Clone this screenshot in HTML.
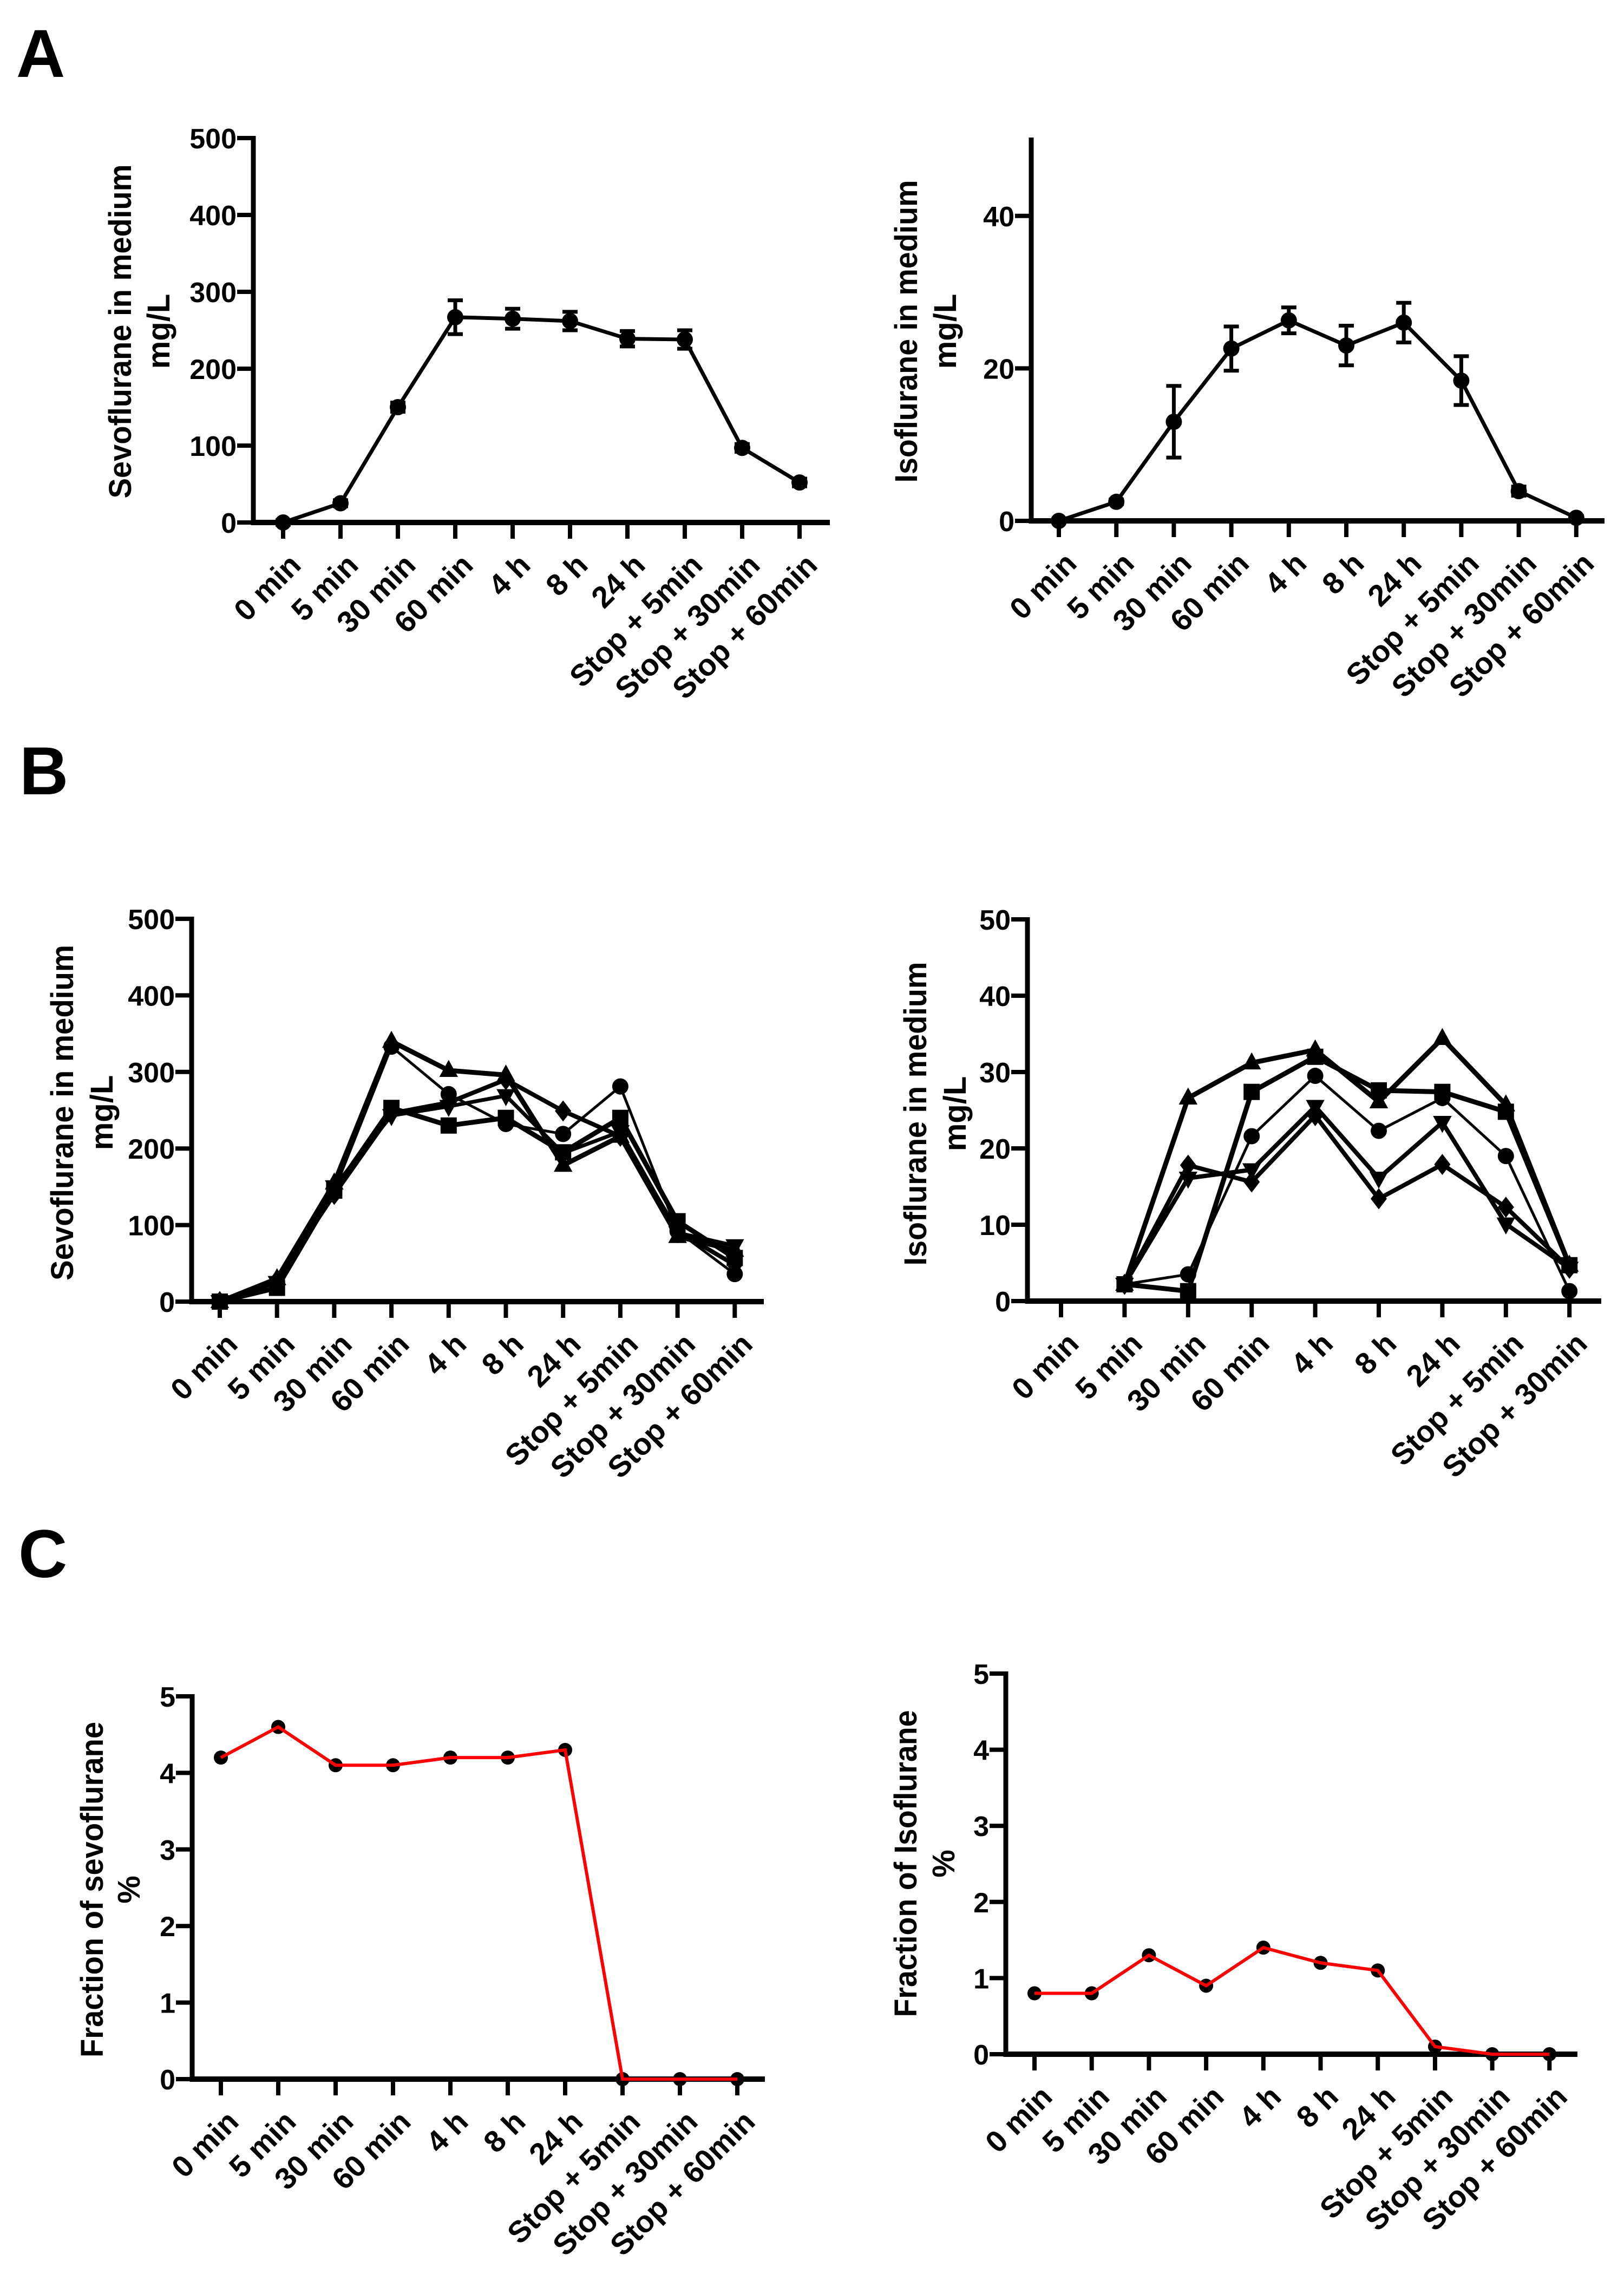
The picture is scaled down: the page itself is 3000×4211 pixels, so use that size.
<!DOCTYPE html>
<html><head><meta charset="utf-8"><style>
html,body{margin:0;padding:0;background:#fff;}
svg{display:block;}
text{font-family:"Liberation Sans",Arial,sans-serif;font-weight:bold;fill:#000;}
</style></head>
<body>
<svg id="fig" xmlns="http://www.w3.org/2000/svg" width="3000" height="4211" viewBox="0 0 3000 4211">
<rect width="3000" height="4211" fill="#fff"/>
<text x="30" y="142" font-size="125">A</text>
<text x="36" y="1467" font-size="125">B</text>
<text x="34" y="2913" font-size="125">C</text>
</svg>
<script>
const CATS10 = ["0 min","5 min","30 min","60 min","4 h","8 h","24 h","Stop + 5min","Stop + 30min","Stop +  60min"];
const CATS9 = ["0 min","5 min","30 min","60 min","4 h","8 h","24 h","Stop + 5min","Stop + 30min"];

const A_SEVO_MEAN = [0, 25, 150, 267, 265, 262, 239, 238, 97, 52];
const A_SEVO_ERR = [3, 4, 6, 22, 13, 12, 10, 12, 5, 5];
const A_ISO_MEAN = [0, 2.5, 13, 22.6, 26.3, 23, 26, 18.4, 3.9, 0.4];
const A_ISO_ERR = [0.2, 0.3, 4.7, 2.9, 1.7, 2.6, 2.6, 3.2, 0.6, 0.2];

const B_SEVO_CIRCLE = [0, 25, 145, 333, 271, 232, 219, 281, 92, 36];
const B_SEVO_SQUARE = [0, 18, 145, 253, 230, 240, 195, 240, 105, 57];
const B_SEVO_TRIUP = [0, 30, 155, 340, 302, 296, 178, 216, 85, 67];
const B_SEVO_TRIDOWN = [0, 25, 150, 243, 255, 269, 194, 222, 90, 73];
const B_SEVO_DIAMOND = [0, 28, 140, 246, 260, 290, 249, 216, 92, 48];

const B_ISO_TRIUP = [null, 2.2, 26.6, 31.2, 32.9, 26.1, 34.4, 25.7, 4.7];
const B_ISO_SQUARE = [null, 2.2, 1.3, 27.4, 32, 27.6, 27.4, 24.8, 4.7];
const B_ISO_CIRCLE = [null, 2.2, 3.5, 21.6, 29.5, 22.3, 26.6, 19, 1.3];
const B_ISO_TRIDOWN = [null, 2.2, 16.1, 17.2, 25.5, 16.1, 23.4, 10.1, 4.3];
const B_ISO_DIAMOND = [null, 2.2, 17.8, 15.6, 24.3, 13.4, 17.9, 12.3, 4.3];

const C_SEVO = [4.2, 4.6, 4.1, 4.1, 4.2, 4.2, 4.3, 0, 0, 0];
const C_ISO = [0.8, 0.8, 1.3, 0.9, 1.4, 1.2, 1.1, 0.1, 0, 0];

const TICKS_500 = [0, 100, 200, 300, 400, 500];
const TICKS_ISO_A = [0, 20, 40];
const TICKS_50 = [0, 10, 20, 30, 40, 50];
const TICKS_5 = [0, 1, 2, 3, 4, 5];

const NS = "http://www.w3.org/2000/svg";
const svg = document.getElementById("fig");
function mk(tag, attrs, parent) {
  const e = document.createElementNS(NS, tag);
  for (const k in attrs) e.setAttribute(k, attrs[k]);
  (parent || svg).appendChild(e);
  return e;
}

function makeChart(cfg) {
  const g = mk("g", {});
  
  
  const yS = v => cfg.y0 - (v / cfg.max) * (cfg.y0 - cfg.yTop);
  const xS = i => cfg.x0 + i * cfg.step;
  const ya = mk("line", {x1: cfg.ax, y1: cfg.yTop - 4, x2: cfg.ax, y2: cfg.y0 + 5, stroke: "#000", "stroke-width": 9}, g);
  
  
  cfg.ticks.forEach(t => {
    const y = yS(t);
    const tl = mk("line", {x1: cfg.ax - 30, y1: y, x2: cfg.ax, y2: y, stroke: "#000", "stroke-width": 8}, g);
    
    
    const tx = mk("text", {x: cfg.ax - 31, y: y + 19, "font-size": 52, "text-anchor": "end"}, g);
    tx.textContent = String(t);
    
    
  });
  const xa = mk("line", {x1: cfg.ax - 4, y1: cfg.y0, x2: cfg.xEnd, y2: cfg.y0, stroke: "#000", "stroke-width": 10}, g);
  
  
  cfg.cats.forEach((c, i) => {
    const x = xS(i);
    const tk = mk("line", {x1: x, y1: cfg.y0, x2: x, y2: cfg.y0 + 30, stroke: "#000", "stroke-width": 8}, g);
    
    
    const ax = x + 36, ay = cfg.y0 + 82;
    const tx = mk("text", {x: ax, y: ay, "font-size": 56, "text-anchor": "end", transform: `rotate(-45 ${ax} ${ay})`, "xml:space": "preserve"}, g);
    tx.textContent = c;
    
    
  });
  const t1 = mk("text", {x: 0, y: 0, "font-size": 58, "text-anchor": "middle", textLength: cfg.tLen, lengthAdjust: "spacingAndGlyphs", transform: `translate(${cfg.tx1} ${cfg.tcy}) rotate(-90)`}, g);
  t1.textContent = cfg.title1;
  
  
  const t2 = mk("text", {x: 0, y: 0, "font-size": 58, "text-anchor": "middle", transform: `translate(${cfg.tx2} ${cfg.tcy}) rotate(-90)`}, g);
  t2.textContent = cfg.title2;
  
  
  return {g, xS, yS};
}

function marker(g, shape, x, y, r, color) {
  let e;
  if (shape === "circle") e = mk("circle", {cx: x, cy: y, r: r, fill: color}, g);
  else if (shape === "square") e = mk("rect", {x: x - r, y: y - r, width: 2 * r, height: 2 * r, fill: color}, g);
  else if (shape === "triup") e = mk("polygon", {points: `${x},${y - r * 1.3} ${x - r * 1.15},${y + r * 0.8} ${x + r * 1.15},${y + r * 0.8}`, fill: color}, g);
  else if (shape === "tridown") e = mk("polygon", {points: `${x},${y + r * 1.3} ${x - r * 1.15},${y - r * 0.8} ${x + r * 1.15},${y - r * 0.8}`, fill: color}, g);
  else e = mk("polygon", {points: `${x},${y - r * 1.3} ${x + r},${y} ${x},${y + r * 1.3} ${x - r},${y}`, fill: color}, g);
  
  
}

function series(ch, vals, color, width, name) {
  const pts = [];
  vals.forEach((v, i) => { if (v !== null) pts.push([ch.xS(i), ch.yS(v)]); });
  const pl = mk("polyline", {points: pts.map(p => p.join(",")).join(" "), fill: "none", stroke: color, "stroke-width": width, "stroke-linejoin": "miter"}, ch.g);
  
  
}

function errbars(ch, mean, err) {
  mean.forEach((m, i) => {
    const x = ch.xS(i), y1 = ch.yS(m + err[i]), y2 = ch.yS(m - err[i]);
    const e = mk("path", {d: `M${x},${y1}V${y2}M${x - 14},${y1}H${x + 14}M${x - 14},${y2}H${x + 14}`, stroke: "#000", "stroke-width": 7, fill: "none"}, ch.g);
    
    
  });
}

const aL = makeChart({name: "chart-a-sevoflurane", ax: 468, y0: 965, yTop: 255, max: 500, ticks: TICKS_500, x0: 523, step: 106, xEnd: 1533, cats: CATS10, title1: "Sevoflurane in medium", title2: "mg/L", tx1: 242, tx2: 313, tcy: 612, tLen: 617});
errbars(aL, A_SEVO_MEAN, A_SEVO_ERR);
series(aL, A_SEVO_MEAN, "#000", 7, "sevoflurane-line");
A_SEVO_MEAN.forEach((v, i) => marker(aL.g, "circle", aL.xS(i), aL.yS(v), 15, "#000"));

const aR = makeChart({name: "chart-a-isoflurane", ax: 1905, y0: 962, yTop: 258, max: 50, ticks: TICKS_ISO_A, x0: 1956, step: 106.2, xEnd: 2964, cats: CATS10, title1: "Isoflurane in medium", title2: "mg/L", tx1: 1694, tx2: 1766, tcy: 612, tLen: 559});
errbars(aR, A_ISO_MEAN, A_ISO_ERR);
series(aR, A_ISO_MEAN, "#000", 7, "isoflurane-line");
A_ISO_MEAN.forEach((v, i) => marker(aR.g, "circle", aR.xS(i), aR.yS(v), 15, "#000"));

const bL = makeChart({name: "chart-b-sevoflurane", ax: 354, y0: 2404, yTop: 1697, max: 500, ticks: TICKS_500, x0: 406, step: 105.7, xEnd: 1411, cats: CATS10, title1: "Sevoflurane in medium", title2: "mg/L", tx1: 135, tx2: 208, tcy: 2055, tLen: 620});
const bLS = [[B_SEVO_CIRCLE, "circle", 5], [B_SEVO_SQUARE, "square", 9], [B_SEVO_TRIUP, "triup", 9], [B_SEVO_TRIDOWN, "tridown", 7], [B_SEVO_DIAMOND, "diamond", 8]];
bLS.forEach(s => {
  series(bL, s[0], "#000", s[2], "series-" + s[1]);
  s[0].forEach((v, i) => marker(bL.g, s[1], bL.xS(i), bL.yS(v), 15, "#000"));
});

const bR = makeChart({name: "chart-b-isoflurane", ax: 1898, y0: 2403, yTop: 1698, max: 50, ticks: TICKS_50, x0: 1960, step: 117.4, xEnd: 2958, cats: CATS9, title1: "Isoflurane in medium", title2: "mg/L", tx1: 1711, tx2: 1784, tcy: 2057, tLen: 561});
const bRS = [[B_ISO_TRIUP, "triup", 9], [B_ISO_SQUARE, "square", 9], [B_ISO_CIRCLE, "circle", 5], [B_ISO_TRIDOWN, "tridown", 8], [B_ISO_DIAMOND, "diamond", 8]];
bRS.forEach(s => {
  series(bR, s[0], "#000", s[2], "series-" + s[1]);
  s[0].forEach((v, i) => { if (v !== null) marker(bR.g, s[1], bR.xS(i), bR.yS(v), 15, "#000"); });
});

const cL = makeChart({name: "chart-c-sevoflurane", ax: 355, y0: 3840, yTop: 3133, max: 5, ticks: TICKS_5, x0: 408, step: 106, xEnd: 1413, cats: CATS10, title1: "Fraction of sevoflurane", title2: "%", tx1: 190, tx2: 258, tcy: 3490, tLen: 620});
C_SEVO.forEach((v, i) => marker(cL.g, "circle", cL.xS(i), cL.yS(v), 13, "#000"));
series(cL, C_SEVO, "#ff0000", 6, "sevoflurane-fraction-line");

const cR = makeChart({name: "chart-c-isoflurane", ax: 1858, y0: 3794, yTop: 3091, max: 5, ticks: TICKS_5, x0: 1911, step: 105.7, xEnd: 2914, cats: CATS10, title1: "Fraction of Isoflurane", title2: "%", tx1: 1693, tx2: 1763, tcy: 3442, tLen: 567});
C_ISO.forEach((v, i) => marker(cR.g, "circle", cR.xS(i), cR.yS(v), 13, "#000"));
series(cR, C_ISO, "#ff0000", 6, "isoflurane-fraction-line");
</script>
</body></html>
